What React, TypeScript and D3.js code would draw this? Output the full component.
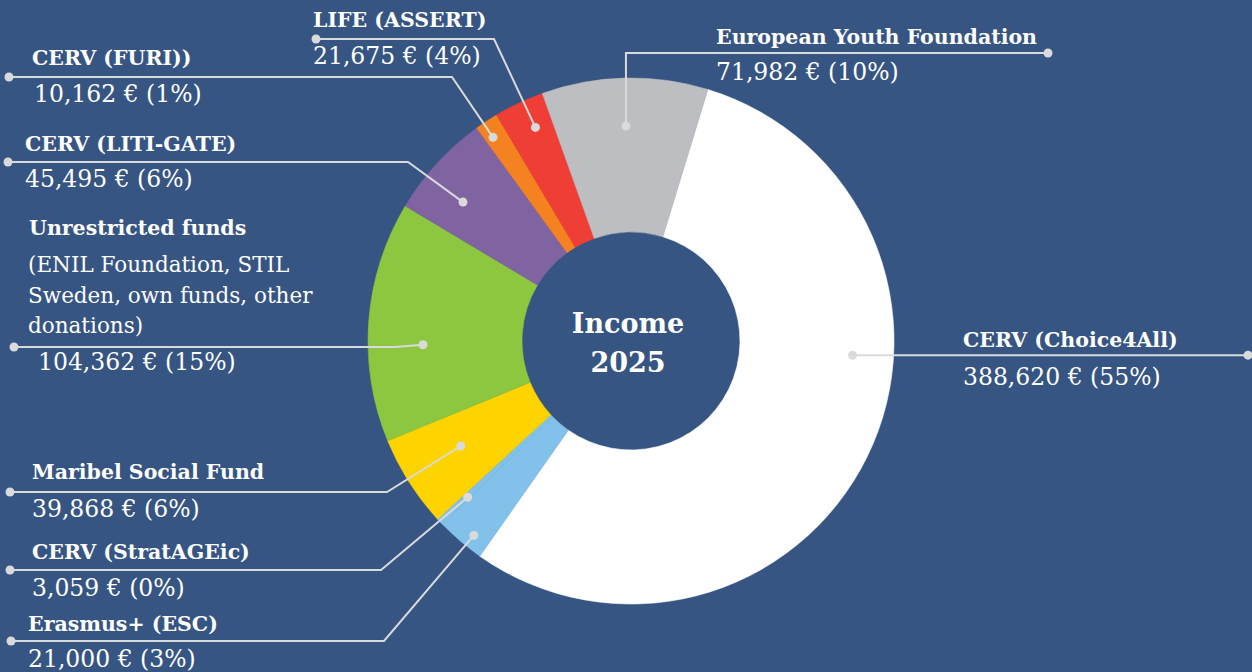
import React from "react";
import * as d3 from "d3";

// ---- Data ----
const categories = [
  "CERV (Choice4All)",
  "Erasmus+ (ESC)",
  "CERV (StratAGEic)",
  "Maribel Social Fund",
  "Unrestricted funds",
  "CERV (LITI-GATE)",
  "CERV (FURI))",
  "LIFE (ASSERT)",
  "European Youth Foundation",
];
const values = [388620, 21000, 3059, 39868, 104362, 45495, 10162, 21675, 71982];
const percentLabels = ["55%", "3%", "0%", "6%", "15%", "6%", "1%", "4%", "10%"];
const colors = [
  "#ffffff",
  "#82c1e9",
  "#82c1e9",
  "#fdd300",
  "#8dc63f",
  "#8064a2",
  "#f58220",
  "#ef3e36",
  "#bdbec1",
];
const subtitleLines = ["(ENIL Foundation, STIL", "Sweden, own funds, other", "donations)"];
const centerTitle = ["Income", "2025"];

// ---- Layout (annotation placement) ----
const W = 1252;
const H = 672;
const CX = 631;
const CY = 341;
const R_OUT = 263;
const R_IN = 109;
const START_DEG = 17;

const BG = "#365582";
const LINE = "#d9dadc";

type Ann = {
  frac: number;
  r: number;
  elbow: [number, number] | null;
  lineY: number | null;
  endX: number;
  tx: number;
  vx: number;
  ly: number;
  vy: number;
};
const annotations: Ann[] = [
  { frac: 0.387, r: 222, elbow: null, lineY: null, endX: 1248, tx: 963, vx: 963, ly: 347, vy: 385 },
  { frac: 0.36, r: 250, elbow: [384, 641], lineY: 641, endX: 11, tx: 28, vx: 28, ly: 631, vy: 667 },
  { frac: 0.3, r: 226, elbow: [381, 570], lineY: 570, endX: 10, tx: 32, vx: 32, ly: 559, vy: 596 },
  { frac: 0.54, r: 200, elbow: [387, 492], lineY: 492, endX: 10, tx: 32, vx: 32, ly: 479, vy: 517 },
  { frac: 0.4, r: 208, elbow: [395, 347], lineY: 347, endX: 14, tx: 29, vx: 38, ly: 235, vy: 370 },
  { frac: 0.375, r: 218, elbow: [408, 162], lineY: 162, endX: 8, tx: 25, vx: 25, ly: 151, vy: 187 },
  { frac: 0.35, r: 246, elbow: [452, 77], lineY: 77, endX: 9, tx: 32, vx: 34, ly: 65, vy: 102 },
  { frac: 0.6, r: 234, elbow: [494, 39], lineY: 39, endX: 316, tx: 313, vx: 313, ly: 27, vy: 64 },
  { frac: 0.5, r: 215, elbow: null, lineY: 53, endX: 1048, tx: 716, vx: 716, ly: 44, vy: 80 },
];

const fmt = d3.format(",");

export default function App() {
  const pie = d3
    .pie<number>()
    .sort(null)
    .value((d) => d)
    .startAngle((START_DEG * Math.PI) / 180)
    .endAngle(((START_DEG + 360) * Math.PI) / 180);
  const arcs = pie(values);
  const arc = d3.arc<d3.PieArcDatum<number>>().innerRadius(R_IN).outerRadius(R_OUT);

  const FONT = "'DejaVu Serif', serif";

  return (
    <div style={{ position: "fixed", left: 0, top: 0, width: W, height: H }}>
      <svg width={W} height={H} style={{ display: "block" }}>
        <rect x={0} y={0} width={W} height={H} fill={BG} />
        <g transform={`translate(${CX},${CY})`}>
          {arcs.map((a, i) => (
            <path key={i} d={arc(a) || ""} fill={colors[i]} stroke={colors[i]} strokeWidth={0.6} />
          ))}
        </g>
        {arcs.map((a, i) => {
          const an = annotations[i];
          const ang = a.startAngle + (a.endAngle - a.startAngle) * an.frac;
          const px = CX + an.r * Math.sin(ang);
          const py = CY - an.r * Math.cos(ang);
          let pts: [number, number][];
          if (an.elbow) {
            pts = [[px, py], an.elbow, [an.endX, an.elbow[1]]];
          } else if (an.lineY !== null) {
            pts = [[px, py], [px, an.lineY], [an.endX, an.lineY]];
          } else {
            pts = [[px, py], [an.endX, py]];
          }
          const end = pts[pts.length - 1];
          return (
            <g key={"ann" + i}>
              <path d={d3.line()(pts) || ""} fill="none" stroke={LINE} strokeWidth={2} />
              <circle cx={px} cy={py} r={4.5} fill={LINE} />
              <circle cx={end[0]} cy={end[1]} r={4.5} fill={LINE} />
              <text x={an.tx} y={an.ly} fill="#ffffff" fontFamily={FONT} fontWeight="bold" fontSize={20.5}>
                {categories[i]}
              </text>
              {i === 4 &&
                subtitleLines.map((s, k) => (
                  <text key={k} x={28} y={272 + k * 30.5} fill="#ffffff" fontFamily={FONT} fontSize={21.5}>
                    {s}
                  </text>
                ))}
              <text x={an.vx} y={an.vy} fill="#ffffff" fontFamily={FONT} fontSize={23.5}>
                {`${fmt(values[i])} € (${percentLabels[i]})`}
              </text>
            </g>
          );
        })}
        <g>
          {centerTitle.map((t, k) => (
            <text
              key={k}
              x={CX - 3}
              y={CY - 8 + k * 39}
              textAnchor="middle"
              fill="#ffffff"
              fontFamily={FONT}
              fontWeight="bold"
              fontSize={27}
            >
              {t}
            </text>
          ))}
        </g>
      </svg>
    </div>
  );
}
